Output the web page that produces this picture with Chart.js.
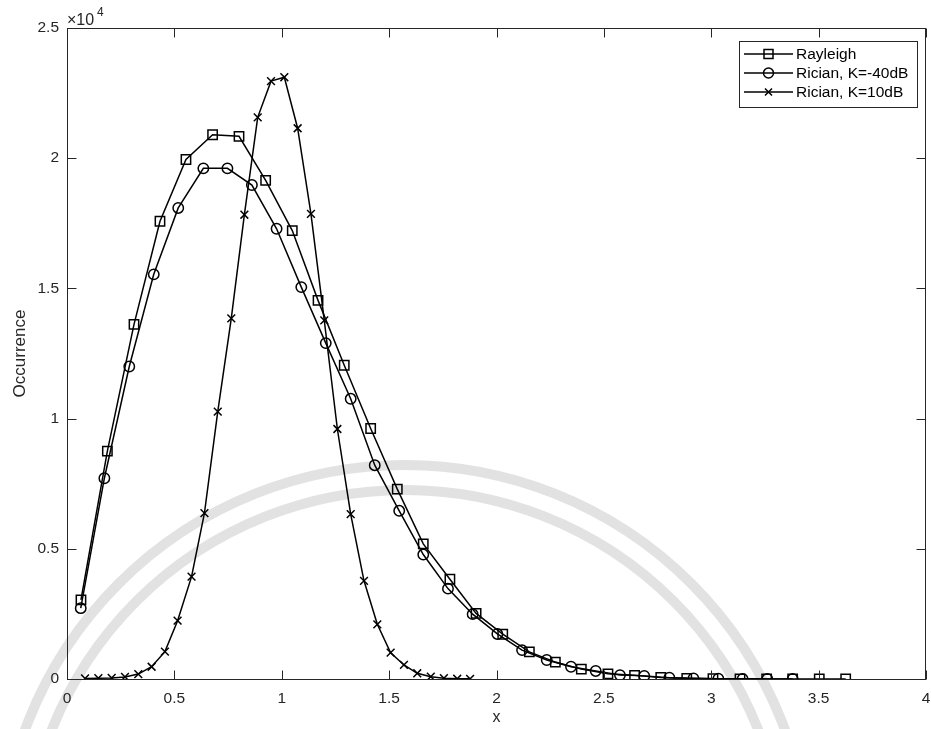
<!DOCTYPE html>
<html>
<head>
<meta charset="utf-8">
<script src="https://cdn.jsdelivr.net/npm/chart.js@4/dist/chart.umd.min.js"></script>
<style>
  html, body { margin: 0; padding: 0; background: #ffffff; }
  #wrap { width: 931px; height: 729px; }
</style>
</head>
<body>
<div id="wrap"><canvas id="c" width="931" height="729"></canvas></div>
<script>
// Histogram of envelope amplitudes: Rayleigh vs. Rician fading
const rayleighX = [0.065, 0.188, 0.312, 0.433, 0.554, 0.678, 0.801, 0.925, 1.049, 1.169,
                   1.291, 1.414, 1.538, 1.659, 1.783, 1.905, 2.029, 2.153, 2.274, 2.395,
                   2.519, 2.643, 2.765, 2.886, 3.008, 3.134, 3.258, 3.379, 3.503, 3.626];
const rayleighY = [3040, 8750, 13620, 17580, 19950, 20900, 20840, 19150, 17220, 14540,
                   12050, 9620, 7290, 5190, 3830, 2520, 1720, 1040, 650, 380,
                   200, 140, 60, 25, 12, 5, 2, 1, 0, 0];

const ricianLowX = [0.064, 0.174, 0.290, 0.404, 0.518, 0.635, 0.747, 0.861, 0.976, 1.091,
                    1.205, 1.321, 1.433, 1.547, 1.659, 1.774, 1.889, 2.004, 2.119, 2.234,
                    2.347, 2.462, 2.575, 2.688, 2.805, 2.917, 3.033, 3.146, 3.261, 3.379];
const ricianLowY = [2720, 7710, 12000, 15540, 18090, 19610, 19610, 18970, 17290, 15050,
                    12900, 10760, 8210, 6460, 4780, 3470, 2490, 1730, 1110, 730,
                    470, 310, 150, 120, 50, 25, 12, 5, 2, 1];

const ricianHighX = [0.084, 0.146, 0.208, 0.270, 0.332, 0.394, 0.456, 0.515, 0.580, 0.640,
                     0.702, 0.765, 0.826, 0.888, 0.950, 1.012, 1.074, 1.136, 1.198, 1.259,
                     1.321, 1.383, 1.445, 1.507, 1.569, 1.631, 1.694, 1.755, 1.817, 1.877];
const ricianHighY = [20, 30, 40, 80, 190, 470, 1050, 2240, 3930, 6370,
                     10270, 13850, 17830, 21570, 22960, 23110, 21150, 17860, 13770, 9600,
                     6330, 3770, 2100, 1010, 540, 220, 90, 30, 10, 5];

const seriesNames = ['Rayleigh', 'Rician, K=-40dB', 'Rician, K=10dB'];
const xTickValues = [0, 0.5, 1, 1.5, 2, 2.5, 3, 3.5, 4];
const yTickValues = [0, 5000, 10000, 15000, 20000, 25000];

const INK = '#262626';
const FONT = '"Liberation Sans", Arial, Helvetica, sans-serif';

function pairs(xs, ys) { return xs.map((x, i) => ({ x: x, y: ys[i] })); }

function seriesStyle(style, radius) {
  return {
    showLine: true,
    borderColor: '#000000',
    borderWidth: 1.5,
    pointStyle: style,
    pointRadius: radius,
    pointHoverRadius: radius,
    pointBorderColor: '#000000',
    pointBackgroundColor: 'rgba(0,0,0,0)',
    pointBorderWidth: 1.5,
    tension: 0
  };
}

// Faint seal arcs behind the plot
const sealBackdrop = {
  id: 'sealBackdrop',
  beforeDraw(chart) {
    const ctx = chart.ctx;
    ctx.save();
    ctx.strokeStyle = 'rgba(190,190,190,0.45)';
    ctx.lineWidth = 10;
    [405, 380].forEach(r => {
      ctx.beginPath();
      ctx.arc(405, 870, r, Math.PI, 2 * Math.PI);
      ctx.stroke();
    });
    ctx.restore();
  }
};

// Box around the axes with inward tick marks on all four sides
const axesFrame = {
  id: 'axesFrame',
  afterDraw(chart) {
    const ctx = chart.ctx;
    const a = chart.chartArea;
    const xs = chart.scales.x, ys = chart.scales.y;
    const L = Math.round(a.left) + 0.5, R = Math.round(a.right) - 0.5;
    const T = Math.round(a.top) + 0.5, B = Math.round(a.bottom) + 0.5;
    const len = 9;
    ctx.save();
    ctx.strokeStyle = INK;
    ctx.lineWidth = 1;
    ctx.beginPath();
    xTickValues.forEach(v => {
      const px = Math.round(xs.getPixelForValue(v)) + 0.5;
      ctx.moveTo(px, B); ctx.lineTo(px, B - len);
      ctx.moveTo(px, T); ctx.lineTo(px, T + len);
    });
    yTickValues.forEach(v => {
      const py = Math.round(ys.getPixelForValue(v)) + 0.5;
      ctx.moveTo(L, py); ctx.lineTo(L + len, py);
      ctx.moveTo(R, py); ctx.lineTo(R - len, py);
    });
    ctx.stroke();
    ctx.strokeRect(L, T, R - L, B - T);

    // exponent marker for the y axis
    ctx.fillStyle = INK;
    ctx.textBaseline = 'alphabetic';
    ctx.textAlign = 'left';
    ctx.font = '16px ' + FONT;
    ctx.fillText('\u00d710', 67, 25);
    ctx.font = '12px ' + FONT;
    ctx.fillText('4', 97, 16);

    // legend
    const bx = 739.5, by = 41.5, bw = 178, bh = 66;
    ctx.fillStyle = '#ffffff';
    ctx.fillRect(bx, by, bw, bh);
    ctx.strokeStyle = INK;
    ctx.lineWidth = 1;
    ctx.strokeRect(bx, by, bw, bh);
    const styles = ['rect', 'circle', 'crossRot'];
    seriesNames.forEach((name, i) => {
      const cy = 54 + i * 19;
      ctx.strokeStyle = '#000000';
      ctx.lineWidth = 1.5;
      ctx.beginPath();
      ctx.moveTo(744, cy); ctx.lineTo(793, cy);
      ctx.stroke();
      const mx = 768.5;
      ctx.beginPath();
      if (styles[i] === 'rect') {
        ctx.rect(mx - 4.5, cy - 4.5, 9, 9);
      } else if (styles[i] === 'circle') {
        ctx.arc(mx, cy, 5, 0, 2 * Math.PI);
      } else {
        ctx.moveTo(mx - 3.5, cy - 3.5); ctx.lineTo(mx + 3.5, cy + 3.5);
        ctx.moveTo(mx + 3.5, cy - 3.5); ctx.lineTo(mx - 3.5, cy + 3.5);
      }
      ctx.stroke();
      ctx.fillStyle = '#000000';
      ctx.font = '15.5px ' + FONT;
      ctx.textBaseline = 'middle';
      ctx.fillText(name, 796, cy + 0.5);
    });
    ctx.restore();
  }
};

new Chart(document.getElementById('c'), {
  type: 'scatter',
  data: {
    datasets: [
      Object.assign({ label: seriesNames[0], data: pairs(rayleighX, rayleighY) }, seriesStyle('rect', 6.6)),
      Object.assign({ label: seriesNames[1], data: pairs(ricianLowX, ricianLowY) }, seriesStyle('circle', 5.2)),
      Object.assign({ label: seriesNames[2], data: pairs(ricianHighX, ricianHighY) }, seriesStyle('crossRot', 5.5))
    ]
  },
  options: {
    responsive: false,
    devicePixelRatio: 1,
    animation: false,
    events: [],
    layout: { autoPadding: false, padding: { top: 28, right: 5, left: 0, bottom: 0 } },
    plugins: { legend: { display: false }, tooltip: { enabled: false } },
    scales: {
      x: {
        type: 'linear',
        min: 0, max: 4,
        afterFit(s) { s.height = 50; s.paddingLeft = 0; s.paddingRight = 0; },
        afterBuildTicks(s) { s.ticks = xTickValues.map(v => ({ value: v })); },
        grid: { display: false, drawTicks: false, tickLength: 0 },
        border: { display: false },
        ticks: {
          padding: 10,
          color: INK,
          font: { family: FONT, size: 15.5 },
          callback: v => String(v)
        },
        title: {
          display: true, text: 'x', color: INK,
          font: { family: FONT, size: 16 },
          padding: { top: 0, bottom: 2 }
        }
      },
      y: {
        type: 'linear',
        min: 0, max: 25000,
        afterFit(s) { s.width = 67; s.paddingTop = 0; s.paddingBottom = 0; },
        afterBuildTicks(s) { s.ticks = yTickValues.map(v => ({ value: v })); },
        grid: { display: false, drawTicks: false, tickLength: 0 },
        border: { display: false },
        ticks: {
          padding: 8,
          color: INK,
          font: { family: FONT, size: 15.5 },
          callback: v => String(v / 10000)
        },
        title: {
          display: true, text: 'Occurrence', color: INK,
          font: { family: FONT, size: 17 },
          padding: { top: 10, bottom: 0 }
        }
      }
    }
  },
  plugins: [sealBackdrop, axesFrame]
});
</script>
</body>
</html>
